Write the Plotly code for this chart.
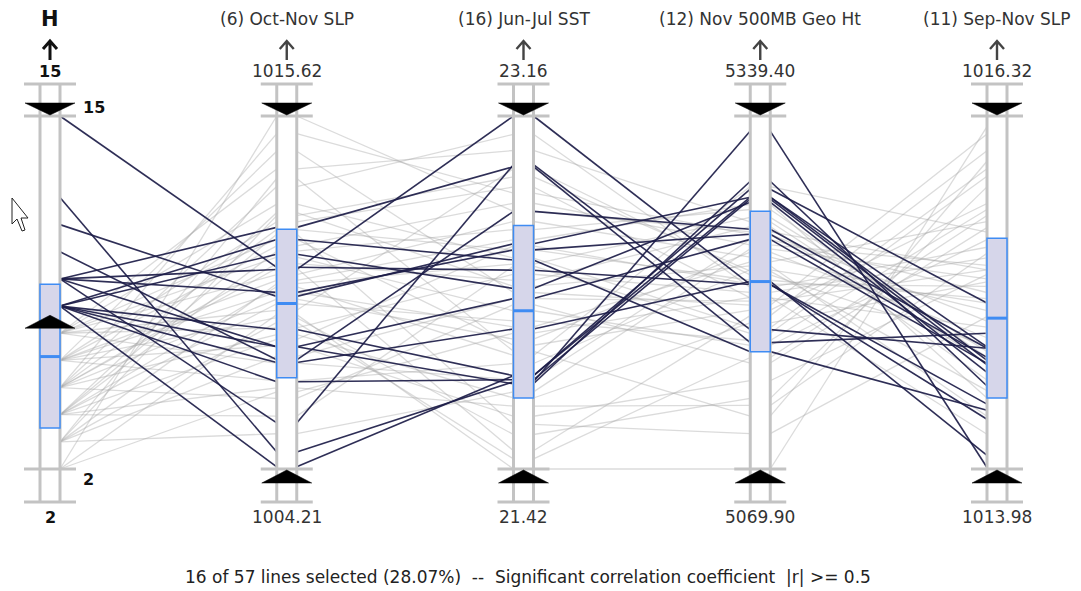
import plotly.graph_objects as go

# ---------------- data ----------------
axis_titles = ["H", "(6) Oct-Nov SLP", "(16) Jun-Jul SST", "(12) Nov 500MB Geo Ht", "(11) Sep-Nov SLP"]
axis_min = [2, 1004.21, 21.42, 5069.90, 1013.98]
axis_max = [15, 1015.62, 23.16, 5339.40, 1016.32]
max_labels = ["15", "1015.62", "23.16", "5339.40", "1016.32"]
min_labels = ["2", "1004.21", "21.42", "5069.90", "1013.98"]

# box summary shown on each axis (low, middle, high)
box_low = [3.51, 1007.16, 21.77, 5159.4, 1014.45]
box_mid = [6.14, 1009.56, 22.20, 5213.0, 1014.98]
box_high = [8.80, 1011.96, 22.62, 5266.7, 1015.51]

# brushing filter on each axis
filter_low = [7.7, 1004.21, 21.42, 5069.90, 1013.98]
filter_high = [15, 1015.62, 23.16, 5339.40, 1016.32]
filter_label_high = "15"
filter_label_low = "2"

h_values = [15, 12, 11, 10, 9, 9, 9, 9, 9, 8, 8, 8, 8, 8, 8, 8,
            7, 7, 7, 7, 7, 7, 7, 7, 6, 6, 6, 6, 6, 6, 6, 6,
            5, 5, 5, 5, 5, 5, 5, 5, 4, 4, 4, 4, 4, 4, 4, 4,
            3, 3, 3, 3, 3, 3, 2, 2, 2]
oct_nov_slp = [1010.73, 1004.76, 1009.79, 1007.74, 1012.02, 1010.66, 1008.16, 1005.70,
               1009.92, 1011.15, 1008.72, 1008.16, 1007.65, 1007.03, 1004.28, 1011.63,
               1008.77, 1010.49, 1011.63, 1009.34, 1012.77, 1007.63, 1011.06, 1013.91,
               1009.92, 1012.20, 1008.20, 1010.31, 1014.48, 1007.06, 1011.42, 1009.10,
               1010.85, 1013.34, 1008.55, 1009.70, 1006.49, 1011.95, 1010.70, 1015.05,
               1006.83, 1011.25, 1009.55, 1012.50, 1008.40, 1010.10, 1005.92, 1011.80,
               1010.20, 1008.95, 1012.40, 1007.85, 1013.60, 1005.35,
               1015.62, 1009.20, 1006.70]
jun_jul_sst = [22.40, 21.85, 22.53, 22.69, 22.91, 23.16, 21.84, 22.92,
               22.50, 22.31, 21.88, 22.26, 22.11, 21.86, 21.88, 22.45,
               22.38, 22.64, 22.03, 22.90, 22.46, 21.86, 22.20, 22.99,
               22.12, 22.81, 21.68, 22.55, 22.29, 21.94, 22.73, 21.59,
               22.35, 23.07, 21.77, 22.06, 22.23, 22.50, 21.51, 22.78,
               21.73, 22.60, 22.15, 22.32, 22.52, 21.98, 22.42, 21.64,
               22.43, 21.47, 22.86, 22.26, 22.00, 21.80,
               22.69, 21.42, 22.09]
nov_500mb = [5210.8, 5327.9, 5277.4, 5252.9, 5166.4, 5210.8, 5289.6, 5176.3,
             5249.1, 5273.6, 5283.5, 5245.2, 5213.1, 5275.9, 5277.4, 5159.5,
             5204.7, 5231.6, 5191.2, 5218.1, 5177.7, 5245.1, 5164.2, 5258.6,
             5228.0, 5200.5, 5137.3, 5272.0, 5195.0, 5222.0, 5241.0, 5123.8,
             5255.0, 5208.5, 5181.5, 5235.5, 5150.8, 5214.0, 5187.0, 5249.0,
             5118.4, 5268.0, 5168.0, 5225.0, 5211.0, 5285.5, 5173.5, 5096.9,
             5262.0, 5155.0, 5221.0, 5198.0, 5110.3, 5238.0,
             5251.0, 5069.9, 5201.0]
sep_nov_slp = [1014.41, 1013.99, 1014.70, 1014.78, 1014.88, 1014.31, 1014.53, 1014.78,
               1014.72, 1014.62, 1015.08, 1014.68, 1014.07, 1014.67, 1014.79, 1014.37,
               1015.38, 1015.03, 1015.74, 1014.80, 1015.97, 1015.15, 1015.50, 1014.68,
               1015.62, 1014.92, 1015.27, 1014.45, 1016.20, 1015.08, 1015.33, 1015.85,
               1014.57, 1015.45, 1015.22, 1014.85, 1015.58, 1015.11, 1016.09, 1014.96,
               1015.41, 1014.72, 1015.70, 1014.33, 1015.19, 1015.55, 1015.92, 1014.99,
               1014.76, 1015.66, 1014.50, 1015.30, 1016.02, 1015.24,
               1015.30, 1016.25, 1014.21]

status_text = "16 of 57 lines selected (28.07%)  --  Significant correlation coefficient  |r| >= 0.5"

# ---------------- geometry / style ----------------
W, H = 1081, 591
X0_PX, STEP_PX = 50.0, 236.75      # pixel of first axis, spacing between axes
TOP_PX, BOT_PX = 116.0, 469.0      # pixel rows of axis max / min
SPAN_PX = BOT_PX - TOP_PX

def dx(px):      # pixel distance -> x units
    return px / STEP_PX

def dy(px):      # pixel distance -> y units
    return px / SPAN_PX

def yrow(py):    # pixel row -> y units (for decorations)
    return (BOT_PX - py) / SPAN_PX

def xcol(px):
    return (px - X0_PX) / STEP_PX

RAIL = dx(10)
CROSS = dx(26)
TRI = dx(25)
GREY = "#c3c3c3"
BOX_FILL = "#d6d6ea"
BOX_LINE = "#3f8cf3"
DARK = "rgba(28,28,72,0.92)"
LIGHT = "rgba(165,165,165,0.40)"
FONT = "DejaVu Sans, Verdana, sans-serif"

columns = [h_values, oct_nov_slp, jun_jul_sst, nov_500mb, sep_nov_slp]
n_axes = len(columns)
n_lines = len(h_values)

def norm(i, v):
    return (v - axis_min[i]) / (axis_max[i] - axis_min[i])

selected = [all(filter_low[i] <= columns[i][k] <= filter_high[i] for i in range(n_axes))
            for k in range(n_lines)]

fig = go.Figure()

for sel, color, width in [(False, LIGHT, 1.3), (True, DARK, 1.6)]:
    xs, ys = [], []
    for k in range(n_lines):
        if selected[k] != sel:
            continue
        for i in range(n_axes - 1):
            xs += [i + RAIL, i + 1 - RAIL, None]
            ys += [norm(i, columns[i][k]), norm(i + 1, columns[i + 1][k]), None]
    fig.add_trace(go.Scatter(x=xs, y=ys, mode="lines", hoverinfo="skip",
                             line=dict(color=color, width=width), showlegend=False))

shapes = []
annotations = []
for i in range(n_axes):
    top_out, bot_out = yrow(84), yrow(502)
    # white body
    shapes.append(dict(type="rect", x0=i - RAIL, x1=i + RAIL, y0=bot_out, y1=top_out,
                       fillcolor="white", line=dict(width=0), layer="above"))
    # rails
    for sx in (i - RAIL, i + RAIL):
        shapes.append(dict(type="line", x0=sx, x1=sx, y0=bot_out, y1=top_out,
                           line=dict(color=GREY, width=3), layer="above"))
    # cross bars
    for yy in (top_out, 1.0, 0.0, bot_out):
        shapes.append(dict(type="line", x0=i - CROSS, x1=i + CROSS, y0=yy, y1=yy,
                           line=dict(color=GREY, width=3), layer="above"))
    # box
    shapes.append(dict(type="rect", x0=i - RAIL, x1=i + RAIL,
                       y0=norm(i, box_low[i]), y1=norm(i, box_high[i]),
                       fillcolor=BOX_FILL, line=dict(color=BOX_LINE, width=1.5), layer="above"))
    ym = norm(i, box_mid[i])
    shapes.append(dict(type="line", x0=i - RAIL, x1=i + RAIL, y0=ym, y1=ym,
                       line=dict(color=BOX_LINE, width=3), layer="above"))
    # filter triangles
    yt = norm(i, filter_high[i]) + dy(1)
    shapes.append(dict(type="path",
                       path=f"M {i - TRI},{yt + dy(12)} L {i + TRI},{yt + dy(12)} L {i},{yt} Z",
                       fillcolor="black", line=dict(color="black", width=0.5), layer="above"))
    yb = norm(i, filter_low[i]) - dy(1)
    shapes.append(dict(type="path",
                       path=f"M {i - TRI},{yb - dy(13)} L {i + TRI},{yb - dy(13)} L {i},{yb} Z",
                       fillcolor="black", line=dict(color="black", width=0.5), layer="above"))
    # arrow
    is_h = i == 0
    acol = "#111111" if is_h else "#444444"
    aw = 3 if is_h else 2.4
    shapes.append(dict(type="path",
                       path=(f"M {i},{yrow(60)} L {i},{yrow(41)} "
                             f"M {i - dx(7)},{yrow(49)} L {i},{yrow(41)} L {i + dx(7)},{yrow(49)}"),
                       line=dict(color=acol, width=aw), layer="above"))
    # labels
    if is_h:
        tfont = dict(family=FONT, size=21, color="#111111")
        title = "<b>" + axis_titles[i] + "</b>"
        vfont = dict(family=FONT, size=16, color="#111111")
        mx, mn = "<b>" + max_labels[i] + "</b>", "<b>" + min_labels[i] + "</b>"
    else:
        tfont = dict(family=FONT, size=17, color="#333333")
        title = axis_titles[i]
        vfont = dict(family=FONT, size=17, color="#333333")
        mx, mn = max_labels[i], min_labels[i]
    annotations.append(dict(x=i, y=yrow(19), text=title, showarrow=False, font=tfont,
                            xanchor="center", yanchor="middle"))
    annotations.append(dict(x=i, y=yrow(71), text=mx, showarrow=False, font=vfont,
                            xanchor="center", yanchor="middle"))
    annotations.append(dict(x=i, y=yrow(517), text=mn, showarrow=False, font=vfont,
                            xanchor="center", yanchor="middle"))

# filter value labels beside H axis
annotations.append(dict(x=xcol(81), y=yrow(107), text="<b>" + filter_label_high + "</b>",
                        showarrow=False, font=dict(family=FONT, size=16, color="#111111"),
                        xanchor="left", yanchor="middle"))
annotations.append(dict(x=xcol(81), y=yrow(479), text="<b>" + filter_label_low + "</b>",
                        showarrow=False, font=dict(family=FONT, size=16, color="#111111"),
                        xanchor="left", yanchor="middle"))
annotations.append(dict(x=xcol(528), y=yrow(577), text=status_text, showarrow=False,
                        font=dict(family=FONT, size=17, color="#222222"),
                        xanchor="center", yanchor="middle"))

# mouse pointer
cur = [(12, 198), (12, 224), (17, 219), (22, 231), (25, 230), (21, 218), (28, 218)]
cpath = "M " + " L ".join(f"{xcol(a)},{yrow(b)}" for a, b in cur) + " Z"
shapes.append(dict(type="path", path=cpath, fillcolor="white",
                   line=dict(color="#222222", width=1), layer="above"))

fig.update_layout(
    width=W, height=H, margin=dict(l=0, r=0, t=0, b=0),
    paper_bgcolor="white", plot_bgcolor="white",
    xaxis=dict(range=[xcol(0), xcol(W)], visible=False, fixedrange=True),
    yaxis=dict(range=[yrow(H), yrow(0)], visible=False, fixedrange=True),
    shapes=shapes, annotations=annotations,
)

fig.write_html("out.html", config={"displayModeBar": False},
               post_script="document.body.style.margin='0';document.body.style.overflow='hidden';")
